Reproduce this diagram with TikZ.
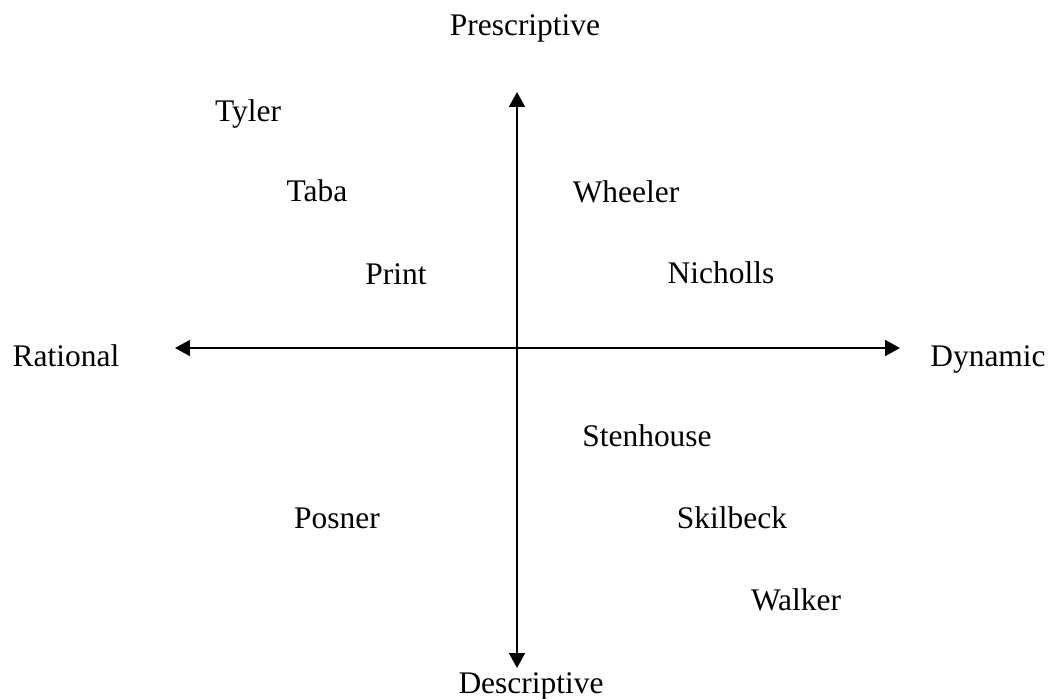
\documentclass[tikz,border=0pt]{standalone}
\usepackage{fontspec}
\setmainfont{Liberation Serif}
\usetikzlibrary{arrows.meta}

\begin{document}
\begin{tikzpicture}[x=0.02cm,y=-0.02cm,
    lbl/.style={anchor=base,inner sep=0pt,font=\fontsize{17.9}{20}\selectfont},
    axis/.style={line width=1.2pt,{Triangle[length=8.5pt,width=9pt]}-{Triangle[length=8.5pt,width=9pt]}}]
  \useasboundingbox (0,0) rectangle (1050,698);

  % Axis ends
  \coordinate (top) at (517,92);
  \coordinate (bot) at (517,668);
  \coordinate (lft) at (175,348);
  \coordinate (rgt) at (900,348);

  % Axes
  \draw[axis] (top) -- (bot);
  \draw[axis] (lft) -- (rgt);

  % Axis labels
  \node[lbl] (presc) at (525,35) {Prescriptive};
  \node[lbl] (descr) at (531,693) {Descriptive};
  \node[lbl] (ratio) at (66,366) {Rational};
  \node[lbl] (dynam) at (988,366) {Dynamic};

  % Theorists
  \node[lbl] (tyler) at (248,121) {Tyler};
  \node[lbl] (taba) at (317,201) {Taba};
  \node[lbl] (print) at (396,284) {Print};
  \node[lbl] (wheeler) at (626,202) {Wheeler};
  \node[lbl] (nicholls) at (721,283) {Nicholls};
  \node[lbl] (stenhouse) at (647,446) {Stenhouse};
  \node[lbl] (posner) at (337,528) {Posner};
  \node[lbl] (skilbeck) at (732,528) {Skilbeck};
  \node[lbl] (walker) at (796,610) {Walker};
\end{tikzpicture}
\end{document}
